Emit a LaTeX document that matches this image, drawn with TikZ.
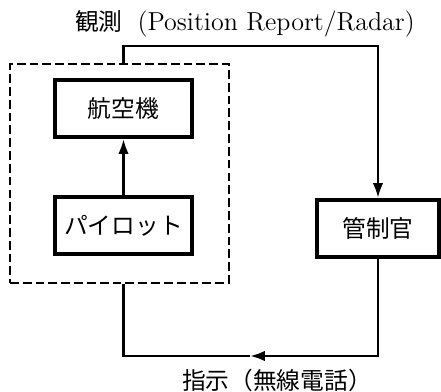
\documentclass[tikz,border=0pt]{standalone}
\usepackage{fontspec}
\newfontfamily\jp{Noto Sans CJK JP}
\usetikzlibrary{arrows.meta}

\begin{document}
\begin{tikzpicture}[x=0.02cm, y=-0.02cm,
  box/.style={draw, line width=2.3pt, inner sep=0pt, minimum height=1.14cm},
  link/.style={line width=1.5pt},
  tip/.style={-{Latex[length=8.5pt,width=6pt]}},
  every node/.style={font=\fontsize{13.5}{16}\selectfont}]

\useasboundingbox (0,0) rectangle (441,392);

\node (frame) [draw, line width=1.4pt, dash pattern=on 5pt off 2.3pt, minimum width=4.38cm, minimum height=4.38cm] at (119.5,173.5) {};
\node (plane) [box, minimum width=2.74cm] at (123.5,108.5) {\jp 航空機};
\node (pilot) [box, minimum width=2.74cm] at (123.5,225.5) {\jp パイロット};
\node (ctl) [box, minimum width=2.44cm] at (378,228.5) {\jp 管制官};

\node (obs) at (245,24) {{\jp 観測}\hspace{0.3cm}\fontsize{14.8}{16}\selectfont(Position Report/Radar)};
\node (cmd) at (277,380) {\jp 指示（無線電話）};

\coordinate (top) at (378,46);
\coordinate (mid) at (250,356);

\draw [link, tip] (pilot) -- (plane);
\draw [link, tip] (frame.north -| plane) |- (top) -- (ctl);
\draw [link, tip] (ctl) |- (mid);
\draw [link] (mid) -| (frame.south -| pilot);

\end{tikzpicture}
\end{document}
